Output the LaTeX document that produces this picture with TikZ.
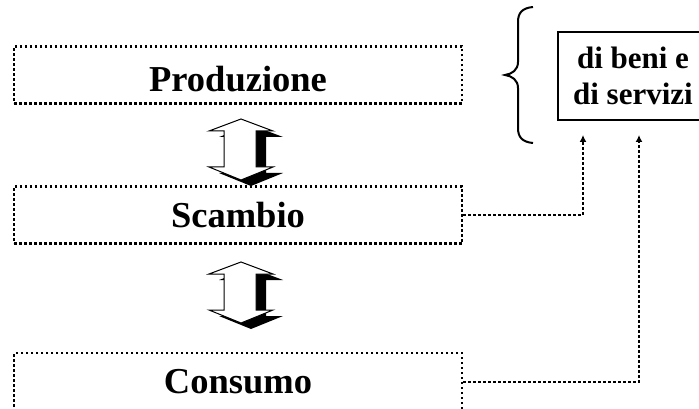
\documentclass[tikz,border=0pt]{standalone}
\usepackage{fontspec}
\setmainfont{Liberation Serif}
\usetikzlibrary{arrows.meta,calc}
\begin{document}
\begin{tikzpicture}[x=1pt,y=-1pt,
  dotbox/.style={draw=black, line width=2.5pt, dash pattern=on 2.5pt off 2.5pt,
     minimum width=448pt, minimum height=57pt, inner sep=0pt,
     font=\bfseries\fontsize{36.5}{40}\selectfont},
  solidbox/.style={draw=black, line width=2pt, minimum width=150pt, minimum height=88pt,
     inner sep=0pt, align=center, font=\bfseries\fontsize{31}{36}\selectfont},
  dotlink/.style={line width=2.5pt, dash pattern=on 2.5pt off 2.5pt, -{Latex[length=7pt,width=7pt]}},
  pics/udarrow/.style={code={
    \fill[black] (10,6) -- (-22,18) -- (-7,18) -- (-7,54) -- (-22,54) -- (10,67) -- (42,54) -- (25,54) -- (25,18) -- (42,18) -- cycle;
    \draw[fill=white, line width=1pt] (0,0) -- (-32,12) -- (-17,12) -- (-17,48) -- (-32,48) -- (0,61) -- (32,48) -- (15,48) -- (15,12) -- (32,12) -- cycle;
  }}]
\clip (0,0) rectangle (699,409);
\fill[white] (0,0) rectangle (699,409);
\node[dotbox, text height=33pt] (prod) at (238,75) {Produzione};
\node[dotbox] (scam) at (238,215) {Scambio};
\node[dotbox, minimum height=58pt] (cons) at (238,382) {Consumo};
\node[solidbox] (beni) at (633,76) {di beni e\\di servizi};
\pic at (241,119) {udarrow};
\pic at (241,262) {udarrow};
\coordinate (t1) at (583,135);
\coordinate (t2) at (639,135);
\draw[dotlink] (scam.east) -| (t1);
\draw[dotlink] (cons.east) -| (t2);
\draw[line width=2pt] (533,7) .. controls (522,8) and (518,13) .. (518,22)
  -- (518,62) .. controls (518,70) and (512,74) .. (505,75)
  .. controls (512,76) and (518,80) .. (518,88)
  -- (518,128) .. controls (518,137) and (522,142) .. (533,143);
\end{tikzpicture}
\end{document}
